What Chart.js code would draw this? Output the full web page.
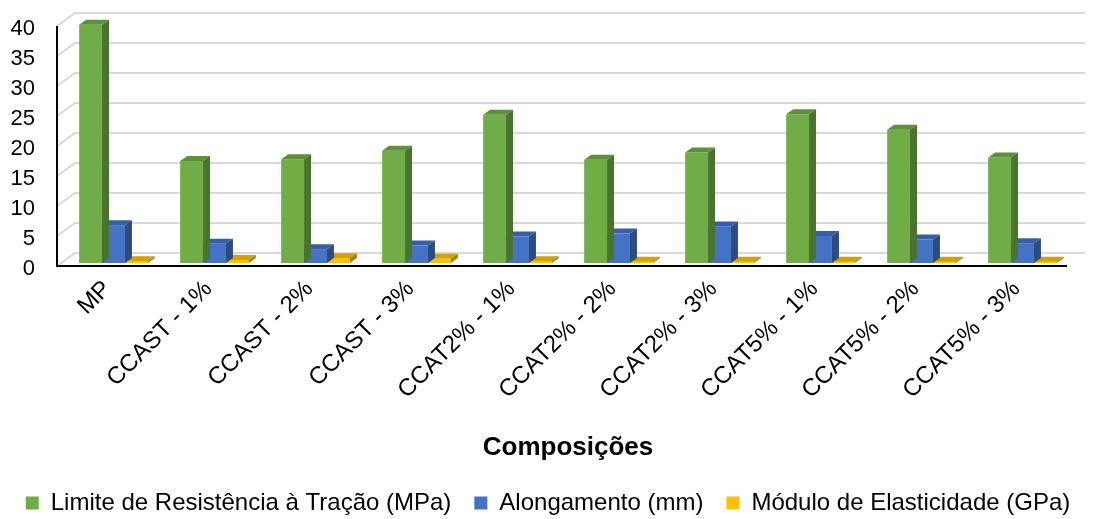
<!DOCTYPE html>
<html>
<head>
<meta charset="utf-8">
<script src="https://cdn.jsdelivr.net/npm/chart.js@4/dist/chart.umd.min.js"></script>
<style>
  html, body { margin: 0; padding: 0; background: #fff; }
  #wrap { width: 1096px; height: 519px; }
</style>
</head>
<body>
<div id="wrap"><canvas id="chart" width="1096" height="519"></canvas></div>
<script>
// dados
const categories = ['MP', 'CCAST - 1%', 'CCAST - 2%', 'CCAST - 3%', 'CCAT2% - 1%', 'CCAT2% - 2%', 'CCAT2% - 3%', 'CCAT5% - 1%', 'CCAT5% - 2%', 'CCAT5% - 3%'];
const tracao = [39.7, 17.0, 17.3, 18.7, 24.7, 17.2, 18.4, 24.8, 22.2, 17.6];
const alongamento = [6.3, 3.2, 2.3, 2.9, 4.4, 4.9, 6.1, 4.5, 3.9, 3.3];
const modulo = [0.3, 0.5, 0.8, 0.7, 0.3, 0.2, 0.2, 0.2, 0.2, 0.2];
const seriesNames = ['Limite de Resistência à Tração (MPa)', 'Alongamento (mm)', 'Módulo de Elasticidade (GPa)'];
const yTicks = [0, 5, 10, 15, 20, 25, 30, 35, 40];

const FONT = "'Liberation Sans', Arial, sans-serif";
const BAR_D = { dx: 7, dy: -5 };     // profundidade das barras
const BACK = { dx: 12, dy: -10 };    // parede do fundo
const FRONT = { dx: -6, dy: 3 };     // plano da frente (eixo)

function poly(ctx, pts) {
  ctx.beginPath();
  ctx.moveTo(pts[0][0], pts[0][1]);
  for (let i = 1; i < pts.length; i++) ctx.lineTo(pts[i][0], pts[i][1]);
  ctx.closePath();
  ctx.fill();
}

// grade "3D" estilo Excel
const wallPlugin = {
  id: 'wall',
  beforeDatasetsDraw(chart) {
    const ctx = chart.ctx;
    const ys = chart.scales.y;
    const { left, right } = chart.chartArea;
    ctx.save();
    ctx.strokeStyle = '#d9d9d9';
    ctx.lineWidth = 2;
    yTicks.forEach(v => {
      const py = ys.getPixelForValue(v);
      ctx.beginPath();
      ctx.moveTo(left + FRONT.dx, py + FRONT.dy);
      ctx.lineTo(left + BACK.dx, py + BACK.dy);
      ctx.lineTo(right + BACK.dx, py + BACK.dy);
      ctx.stroke();
    });
    ctx.restore();
  },
  afterDatasetsDraw(chart) {
    const ctx = chart.ctx;
    const ys = chart.scales.y;
    const { left, right } = chart.chartArea;
    const y0 = ys.getPixelForValue(0) + FRONT.dy;
    const yTop = ys.getPixelForValue(40) + FRONT.dy;
    ctx.save();
    ctx.strokeStyle = '#000';
    ctx.lineWidth = 2;
    ctx.beginPath();
    ctx.moveTo(left + FRONT.dx, yTop);
    ctx.lineTo(left + FRONT.dx, y0);
    ctx.lineTo(right + FRONT.dx, y0);
    ctx.stroke();
    ctx.restore();
  }
};

const barPlugin = {
  id: 'bar3d',
  afterDatasetDraw(chart, args) {
    const ctx = chart.ctx;
    const ds = chart.data.datasets[args.index];
    const meta = chart.getDatasetMeta(args.index);
    ctx.save();
    meta.data.forEach(bar => {
      const p = bar.getProps(['x', 'y', 'base', 'width'], true);
      const l = p.x - p.width / 2, r = p.x + p.width / 2;
      ctx.fillStyle = ds.topColor;
      poly(ctx, [[l, p.y], [l + BAR_D.dx, p.y + BAR_D.dy], [r + BAR_D.dx, p.y + BAR_D.dy], [r, p.y]]);
      ctx.fillStyle = ds.sideColor;
      poly(ctx, [[r, p.y], [r + BAR_D.dx, p.y + BAR_D.dy], [r + BAR_D.dx, p.base + BAR_D.dy], [r, p.base]]);
    });
    ctx.restore();
  }
};

new Chart(document.getElementById('chart'), {
  type: 'bar',
  data: {
    labels: categories,
    datasets: [
      { label: seriesNames[0], data: tracao, backgroundColor: '#70ad47', topColor: '#5c913a', sideColor: '#4a7330' },
      { label: seriesNames[1], data: alongamento, backgroundColor: '#4472c4', topColor: '#3560a8', sideColor: '#2c4b82' },
      { label: seriesNames[2], data: modulo, backgroundColor: '#ffc000', topColor: '#d4a000', sideColor: '#a87e00' }
    ]
  },
  options: {
    responsive: false,
    animation: false,
    categoryPercentage: 0.68,
    barPercentage: 1,
    layout: { padding: { left: 0, right: 0, top: 23, bottom: -6 } },
    scales: {
      x: {
        afterFit(scale) { scale.height = 205; scale.paddingLeft = 0; scale.paddingRight = 23; },
        grid: { display: false, drawTicks: false },
        border: { display: false },
        ticks: {
          minRotation: 45, maxRotation: 45, padding: 12, labelOffset: -6, autoSkip: false,
          color: '#000', font: { family: FONT, size: 24 }
        },
        title: {
          display: true, text: 'Composições', color: '#000',
          font: { family: FONT, size: 26, weight: 'bold' },
          padding: { top: 4, bottom: 5 }
        }
      },
      y: {
        min: 0, max: 40,
        afterFit(scale) { scale.width = 63; scale.paddingTop = 0; scale.paddingBottom = 0; },
        afterBuildTicks(scale) { scale.ticks = yTicks.map(v => ({ value: v })); },
        grid: { display: false, drawTicks: false },
        border: { display: false },
        ticks: { padding: 28, labelOffset: 6, autoSkip: false, color: '#000', font: { family: FONT, size: 22 } }
      }
    },
    plugins: {
      legend: {
        position: 'bottom',
        labels: {
          boxWidth: 13, boxHeight: 13, padding: 23, color: '#000',
          font: { family: FONT, size: 24 }
        }
      },
      tooltip: { enabled: false }
    }
  },
  plugins: [wallPlugin, barPlugin]
});
</script>
</body>
</html>
